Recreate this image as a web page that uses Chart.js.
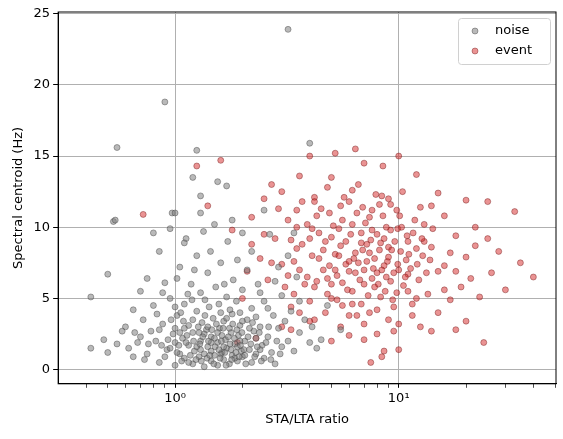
<!DOCTYPE html>
<html>
<head>
<meta charset="utf-8">
<script src="https://cdn.jsdelivr.net/npm/chart.js@4.4.0/dist/chart.umd.min.js"></script>
<style>
  html, body { margin: 0; padding: 0; background: #fff; }
  #wrap { width: 563px; height: 439px; }
</style>
</head>
<body>
<div id="wrap"><canvas id="chart"></canvas></div>
<script>
// Series values: [STA/LTA ratio, spectral centroid Hz]
const noisePoints = [
    [0.42,1.5],[0.42,5.1],[0.5,6.7],[0.53,10.4],[0.54,10.5],[0.55,15.6],[0.9,18.8],[3.2,23.9],[4.0,15.9],[1.25,15.4],
    [0.97,11.0],[1.0,11.0],[1.2,13.5],[1.3,12.2],[1.55,13.2],[1.7,12.9],[0.8,9.6],[0.85,8.3],[0.6,3.0],[0.48,2.1],
    [0.5,1.2],[0.55,1.8],[0.58,2.7],[0.62,1.5],[0.65,0.9],[0.7,2.3],[0.72,3.5],[0.75,1.1],[0.8,4.5],[0.82,2.0],
    [0.85,0.5],[0.88,3.2],[0.9,6.1],[0.92,1.4],[0.95,5.0],[0.98,2.5],[1.0,0.3],[1.02,3.8],[1.05,7.2],[1.05,1.1],
    [1.08,2.2],[1.1,4.6],[1.1,0.8],[1.12,9.2],[1.15,1.7],[1.15,3.1],[1.18,6.0],[1.2,0.4],[1.2,2.6],[1.22,1.3],
    [1.25,4.1],[1.25,8.0],[1.28,0.9],[1.3,2.0],[1.3,5.4],[1.32,3.3],[1.35,1.1],[1.35,0.2],[1.38,2.8],[1.4,6.8],
    [1.4,1.6],[1.42,4.4],[1.45,0.6],[1.45,2.3],[1.48,3.6],[1.5,1.0],[1.5,10.2],[1.52,5.8],[1.55,1.9],[1.55,0.3],
    [1.58,2.9],[1.6,4.0],[1.6,7.5],[1.62,1.2],[1.65,0.7],[1.65,3.4],[1.68,2.1],[1.7,5.1],[1.7,1.5],[1.72,9.0],
    [1.75,0.4],[1.78,2.6],[1.8,3.9],[1.8,1.0],[1.82,6.3],[1.85,1.8],[1.88,4.8],[1.9,0.6],[1.92,2.4],[1.95,3.1],
    [1.98,1.3],[2.0,5.6],[2.0,0.9],[2.05,2.0],[2.1,7.0],[2.1,3.5],[2.15,1.4],[2.2,0.5],[2.2,4.3],[2.25,2.7],
    [2.3,1.1],[2.35,6.0],[2.4,3.0],[2.45,1.7],[2.5,0.8],[2.5,4.8],[2.6,2.3],[2.65,9.5],[2.7,1.2],[2.75,3.8],
    [2.8,0.4],[2.9,2.9],[3.0,5.2],[3.0,1.6],[3.1,3.4],[3.2,2.0],[3.3,4.1],[3.4,1.3],[3.5,6.5],[3.6,2.6],
    [3.8,3.5],[4.0,1.9],[4.1,3.0],[4.5,2.1],[4.8,4.5],[5.5,2.8],[4.3,1.5],[2.5,11.2],[2.0,9.6],[1.8,10.5],
    [0.7,5.5],[0.75,6.4],[0.65,4.2],[1.0,1.9],[1.1,2.9],[1.15,0.5],[1.25,1.6],[1.35,2.5],[1.45,1.3],[1.55,2.6],
    [1.65,1.6],[1.75,2.9],[1.85,0.8],[1.95,2.0],[2.05,1.0],[2.15,2.9],[2.3,2.2],[1.05,2.6],[1.2,3.5],[1.3,1.4],
    [1.4,3.0],[1.5,2.2],[1.6,1.1],[1.7,3.6],[1.9,1.6],[2.0,3.4],[2.4,1.4],[1.12,1.9],[1.28,2.6],[1.45,1.9],
    [1.62,2.4],[1.78,1.4],[0.95,1.5],[0.85,2.8],[1.0,4.4],[3.4,9.6],[2.9,7.2],[3.2,8.0],[1.1,8.9],[0.95,9.9],
    [1.3,11.0],[2.2,8.3],
    [1.02,1.2],[1.07,0.6],[1.09,3.4],[1.13,2.4],[1.17,1.0],[1.19,4.9],[1.21,2.0],[1.24,0.7],[1.27,3.0],[1.29,1.8],
    [1.31,0.6],[1.33,2.3],[1.36,3.8],[1.39,0.8],[1.41,2.0],[1.43,1.0],[1.46,2.8],[1.49,0.4],[1.51,1.6],[1.53,3.2],
    [1.57,1.4],[1.59,0.8],[1.61,2.0],[1.64,2.9],[1.67,1.2],[1.69,0.3],[1.73,2.3],[1.76,1.8],[1.79,0.7],[1.81,3.2],
    [1.84,2.2],[1.87,1.2],[1.89,2.8],[1.93,0.9],[1.96,1.7],[1.99,2.6],[2.03,1.4],[2.07,0.4],[2.12,2.3],[2.18,1.8],
    [2.22,3.3],[2.27,0.9],[2.33,1.6],[2.38,2.6],[2.43,0.6],[2.55,1.9],[2.62,3.0],[2.68,0.7],[2.85,2.0],[2.95,1.1],
    [1.0,2.9],[1.04,1.7],[1.06,4.0],[0.96,3.5],[0.93,2.1],[0.9,0.9],[0.87,1.7],[0.83,3.9],[0.78,2.7],[0.76,1.8],
    [0.73,0.7],[0.68,1.9],[0.66,2.6],[1.14,5.3],[1.36,4.9],[1.57,4.6],[1.76,4.2],[1.95,4.0],[2.3,3.7],[2.6,4.3],
    [1.22,7.0],[1.44,8.3],[1.66,6.0],[1.9,7.7],[2.4,5.4],[1.02,6.4],[0.88,5.4],[2.8,6.2],[3.6,4.8],[1.34,9.7]
];
const eventPoints = [
    [0.72,10.9],[1.25,14.3],[1.6,14.7],[1.4,11.5],[1.8,9.8],[1.9,1.9],[2.3,2.2],[2.0,5.0],[2.2,8.8],[2.5,12.0],
    [2.7,13.0],[3.0,3.0],[3.3,2.8],[4.0,15.0],[5.2,15.2],[6.4,15.5],[7.0,14.5],[8.5,14.3],[10.0,15.0],[12.0,13.7],
    [9.0,12.0],[7.5,0.5],[8.4,0.9],[8.6,1.3],[10,1.4],[14,2.7],[18,2.8],[20,3.4],[24,1.9],[33,11.1],
    [40,6.5],[35,7.5],[30,5.6],[28,8.3],[25,11.8],[22,10.0],[20,11.9],[18,9.4],[16,7.3],[15,12.4],
    [13,9.0],[12,5.0],[11,6.7],[10,3.2],[9.5,4.4],[8,2.5],[6.5,3.8],[5.6,4.5],[4.8,5.3],[4.2,3.5],
    [3.8,6.0],[3.5,8.5],[3.2,10.5],[3.0,7.4],[2.8,9.2],[2.6,6.3],[2.4,7.8],[2.2,10.7],[2.1,6.9],
    [3.3,9.1],[3.6,7.0],[3.9,10.2],[4.1,8.0],[4.3,6.2],[4.5,11.3],[4.7,9.0],[4.9,7.3],[5.1,10.1],[5.3,6.6],
    [5.5,8.7],[5.7,12.1],[5.9,5.6],[6.1,9.5],[6.3,7.8],[6.5,11.0],[6.7,6.3],[6.9,8.4],[7.1,10.3],[7.3,5.2],
    [7.5,9.1],[7.7,7.1],[7.9,12.3],[8.1,6.0],[8.3,8.9],[8.5,10.8],[8.7,5.5],[8.9,7.6],[9.2,9.8],[9.5,6.8],
    [9.8,11.2],[10.2,8.3],[10.5,5.9],[10.9,9.4],[11.3,7.1],[11.8,10.5],[12.3,6.3],[12.8,8.0],[13.5,5.3],[14.2,9.9],
    [15,6.9],[16,10.8],[17,8.2],[3.4,5.3],[3.7,11.8],[4.0,4.8],[4.4,9.6],[4.8,12.8],[5.0,6.0],[5.4,9.9],
    [5.8,7.4],[6.2,4.6],[6.6,13.0],[7.0,7.0],[7.4,10.7],[7.8,5.8],[8.2,11.6],[8.6,7.3],[9.0,8.6],[9.4,4.9],
    [9.9,9.9],[10.4,12.5],[10.8,7.7],[11.5,4.6],[12.5,11.4],[13.8,7.7],[2.9,11.3],[3.1,5.8],[2.5,9.5],[2.7,7.5],
    [3.0,12.5],[3.6,13.6],[4.2,12.1],[5.0,13.5],[6.0,11.8],[6.8,9.6],[5.2,8.1],[4.6,7.0],[4.0,9.2],[3.5,10.0],
    [6.4,8.2],[7.2,8.8],[8.0,9.5],[8.8,10.0],[5.6,10.5],[4.3,10.8],[6.0,6.9],[7.6,6.4],[9.2,6.2],[10.0,7.0],
    [11,9.0],[12,8.5],[13,10.2],[14,11.5],[16,5.6],[18,6.9],[20,7.9],[22,8.7],[25,9.2],[15,4.0],
    [11.5,3.8],[9,3.5],[7,3.2],[5.5,3.0],[3.6,4.0],[6.2,5.5],[8,4.2],[5,5.0],[4.2,5.8],
    [3.2,6.6],[3.4,7.6],[3.7,8.8],[3.9,6.5],[4.1,9.9],[4.4,7.8],[4.6,8.4],[4.8,6.4],[5.0,9.3],[5.2,7.0],
    [5.4,8.0],[5.6,6.1],[5.8,9.0],[6.0,7.6],[6.2,10.2],[6.4,6.8],[6.6,7.5],[6.8,8.9],[7.0,6.0],[7.2,7.6],
    [7.4,8.2],[7.6,9.8],[7.8,7.8],[8.0,6.8],[8.2,8.4],[8.4,7.0],[8.6,9.2],[8.8,6.5],[9.0,7.9],[9.3,8.4],
    [9.6,9.0],[9.9,7.4],[10.3,10.0],[10.7,6.5],[11.1,8.1],[11.6,9.6],[12.1,7.4],[12.7,9.2],[13.3,6.8],[14,8.6],
    [3.5,11.2],[4.2,11.8],[4.9,11.0],[5.5,11.5],[6.2,12.6],[6.9,11.4],[7.6,11.2],[8.4,12.2],[9.2,11.6],[10.1,10.8],
    [3.3,4.4],[4.0,3.4],[4.7,4.0],[5.3,4.9],[6.0,3.8],[6.8,4.6],[7.4,4.0],[8.3,5.1],[9.8,5.4],[11,5.5],
    [7.0,2.1],[6.0,2.4],[5.0,2.0],[9.5,2.7],[12.5,3.0],[17,4.9],[19,5.8],[21,6.4],[26,6.8],[23,5.1]
];
const xTicks = [0.4,0.5,0.6,0.7,0.8,0.9,1,2,3,4,5,6,7,8,9,10,20,30,40,50];
const xMajor = { 1: '10⁰', 10: '10¹' };
const yTicks = [0, 5, 10, 15, 20, 25];

const colors = {
    noiseFill: 'rgba(128, 128, 128, 0.55)',
    noiseEdge: 'rgba(60, 60, 60, 0.7)',
    eventFill: 'rgba(214, 39, 40, 0.5)',
    eventEdge: 'rgba(110, 20, 20, 0.7)',
    grid: '#b0b0b0'
};

const toXY = pts => pts.map(p => ({ x: p[0], y: p[1] }));

// full frame around the plot area plus a matplotlib-style legend
const frameAndLegend = {
    id: 'frameAndLegend',
    afterDraw(chart) {
        const { ctx, chartArea } = chart;
        ctx.save();
        ctx.strokeStyle = '#000';
        ctx.lineWidth = 1;
        ctx.strokeRect(chartArea.left, chartArea.top, chartArea.right - chartArea.left, chartArea.bottom - chartArea.top);

        const w = 92, h = 46;
        const x = chartArea.right - w - 6, y = chartArea.top + 6;
        ctx.fillStyle = 'rgba(255,255,255,0.8)';
        ctx.strokeStyle = '#d0d0d0';
        ctx.beginPath();
        ctx.roundRect(x + 0.5, y + 0.5, w, h, 3);
        ctx.fill();
        ctx.stroke();
        const items = [['noise', colors.noiseFill, colors.noiseEdge], ['event', colors.eventFill, colors.eventEdge]];
        ctx.font = '13px "DejaVu Sans"';
        ctx.textBaseline = 'middle';
        items.forEach((it, i) => {
            const cy = y + 13 + i * 20;
            ctx.beginPath();
            ctx.arc(x + 17, cy, 3, 0, Math.PI * 2);
            ctx.fillStyle = it[1];
            ctx.fill();
            ctx.strokeStyle = it[2];
            ctx.lineWidth = 0.6;
            ctx.stroke();
            ctx.fillStyle = '#000';
            ctx.fillText(it[0], x + 37, cy);
        });
        ctx.restore();
    }
};

new Chart(document.getElementById('chart'), {
    type: 'scatter',
    data: {
        datasets: [
            {
                label: 'noise',
                data: toXY(noisePoints),
                backgroundColor: colors.noiseFill,
                borderColor: colors.noiseEdge,
                borderWidth: 0.6,
                pointRadius: 3
            },
            {
                label: 'event',
                data: toXY(eventPoints),
                backgroundColor: colors.eventFill,
                borderColor: colors.eventEdge,
                borderWidth: 0.6,
                pointRadius: 3
            }
        ]
    },
    options: {
        responsive: true,
        maintainAspectRatio: false,
        animation: false,
        layout: { padding: { left: 7, right: 7, top: 12, bottom: 8 } },
        plugins: {
            legend: { display: false },
            tooltip: { enabled: false }
        },
        scales: {
            x: {
                type: 'logarithmic',
                min: 0.342,
                max: 50.5,
                afterBuildTicks: axis => { axis.ticks = xTicks.map(v => ({ value: v })); },
                border: { color: '#000', width: 1 },
                grid: {
                    color: ctx => (ctx.tick && xMajor[ctx.tick.value]) ? colors.grid : 'rgba(0,0,0,0)',
                    tickColor: '#000',
                    tickLength: 4,
                    tickWidth: ctx => (ctx.tick && xMajor[ctx.tick.value]) ? 1 : 0.7
                },
                ticks: {
                    autoSkip: false,
                    maxRotation: 0,
                    color: '#000',
                    font: { family: 'DejaVu Sans', size: 13 },
                    callback: v => xMajor[v] || ''
                },
                title: {
                    display: true,
                    text: 'STA/LTA ratio',
                    color: '#000',
                    font: { family: 'DejaVu Sans', size: 13 },
                    padding: { top: 2 }
                }
            },
            y: {
                min: -1,
                max: 25.12,
                afterBuildTicks: axis => { axis.ticks = yTicks.map(v => ({ value: v })); },
                border: { color: '#000', width: 1 },
                grid: { color: colors.grid, tickColor: '#000', tickLength: 5 },
                ticks: {
                    color: '#000',
                    font: { family: 'DejaVu Sans', size: 13 }
                },
                title: {
                    display: true,
                    text: 'Spectral centroid (Hz)',
                    color: '#000',
                    font: { family: 'DejaVu Sans', size: 13 }
                }
            }
        }
    },
    plugins: [frameAndLegend]
});
</script>
</body>
</html>
